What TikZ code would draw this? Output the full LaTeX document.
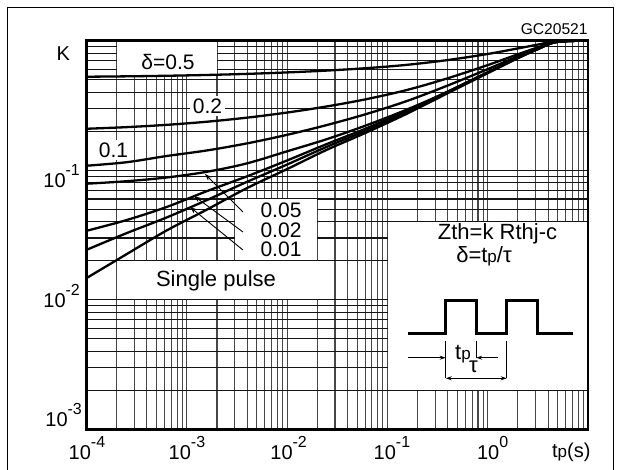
\documentclass[tikz,border=0pt]{standalone}
\usepackage{fontspec}
\setmainfont{Liberation Sans}
\usetikzlibrary{arrows.meta}
\tikzset{
  gridv/.style={line width=0.55pt, black!72},
  gridh/.style={line width=0.55pt, black!92},
  axisframe/.style={line width=1.3pt},
  curve/.style={line width=1.15pt, line join=round},
  lbl/.style={font=\fontsize{10.5}{12}\selectfont, inner sep=0pt},
  big/.style={font=\fontsize{11}{13}\selectfont, inner sep=0pt},
  num/.style={font=\fontsize{10}{12}\selectfont, inner sep=0pt},
  tag/.style={fill=white, inner sep=1.5pt, font=\fontsize{10.5}{12}\selectfont},
  leader/.style={line width=0.45pt, -{Stealth[length=3.5pt,width=2.5pt]}},
  dim/.style={line width=0.45pt},
  dimarrow/.style={line width=0.45pt, -{Stealth[length=3pt,width=2pt]}},
  dimboth/.style={line width=0.45pt, {Stealth[length=3pt,width=2pt]}-{Stealth[length=3pt,width=2pt]}},
  pulse/.style={line width=1.3pt},
}
\newcommand\tenexp[1]{10\raisebox{0.6em}{\fontsize{8}{8}\selectfont #1}}
\newcommand\smallp{{\fontsize{8.5}{8}\selectfont p}}
% single-pulse values of K at the sample abscissae
\newcommand\splist{86.5/0.01469, 126.5/0.02239, 166.5/0.03357, 206.5/0.04943,
     246.5/0.07145, 286.5/0.1014, 326.5/0.1413, 366.5/0.1954, 406.5/0.2723,
     446.5/0.3890, 486.5/0.5559, 516.5/0.7244, 536.5/0.8511, 556.5/0.9772, 588/1.0}
\newcommand\zcurve[1]{%
  \gdef\pts{}%
  \foreach \px/\k in \splist {%
    \pgfmathsetmacro\py{40.7-129.53*ln(#1+(1-#1)*\k)/ln(10)}%
    \xdef\pts{\pts (\px,\py)}%
  }%
  \draw[curve] plot[smooth,tension=0.55] coordinates {\pts};%
}
\newcommand\kcurve[1]{%
  \gdef\pts{}%
  \foreach \px/\k in {#1} {%
    \pgfmathsetmacro\py{40.7-129.53*ln(\k)/ln(10)}%
    \xdef\pts{\pts (\px,\py)}%
  }%
  \draw[curve] plot[smooth,tension=0.55] coordinates {\pts};%
}
\begin{document}
\begin{tikzpicture}[x=0.5pt,y=-0.5pt]
\useasboundingbox (0,0) rectangle (622,470);
\begin{scope}
\clip (0,0) rectangle (622,470);
% outer frame
\draw[line width=0.75pt] (7.3,480) -- (7.3,7.3) -- (613.3,7.3) -- (613.3,480);
\end{scope}
% grid
\foreach \d in {0,...,4}{\foreach \m in {1,...,9}{%
  \pgfmathsetmacro\gx{86.5+100.3*(\d+ln(\m)/ln(10))}%
  \draw[gridv] (\gx,40.7) -- (\gx,429.3);}}
\foreach \d in {0,1,2}{\foreach \m in {1,...,9}{%
  \pgfmathsetmacro\gy{429.3-129.53*(\d+ln(\m)/ln(10))}%
  \draw[gridh] (86.5,\gy) -- (588,\gy);}}
% blank areas
\fill[white] (117.2,41) rectangle (216.5,76.5);
\fill[white] (235.15,199.5) rectangle (316.8,260.3);
\fill[white] (117.2,261.3) rectangle (334.45,299.3);
\fill[white] (387.9,222.3) rectangle (587.5,389.8);
% curves
\begin{scope}
\clip (86.5,40.7) rectangle (588,429.3);
\zcurve{0.52}
\zcurve{0.197}
\zcurve{0.095}
\kcurve{86.5/0.0780, 126.5/0.0817, 166.5/0.0875, 206.5/0.0970, 246.5/0.1127,
  286.5/0.1371, 326.5/0.1726, 366.5/0.2223, 406.5/0.2931, 446.5/0.3999,
  486.5/0.5650, 516.5/0.7382, 536.5/0.8585, 556.5/0.9783, 588/1.0}
\zcurve{0.019}
\zcurve{0.0097}
\zcurve{0.0}
\end{scope}
\draw[axisframe] (86.5,40.7) rectangle (588,429.3);
% curve labels
\node[lbl] (d05) at (168,61.5) {δ=0.5};
\node[tag] (d02) at (207.5,106) {0.2};
\node[tag] (d01) at (113.5,150) {0.1};
\node[lbl] (n05) at (281,210) {0.05};
\node[lbl] (n02) at (281,230) {0.02};
\node[lbl] (n01) at (281,249.7) {0.01};
\node[big] (sp) at (216,281) {Single pulse};
\coordinate (s05) at (243,212);
\coordinate (s02) at (243,232);
\coordinate (s01) at (243,250);
\coordinate (t05) at (205,174);
\coordinate (t02) at (194,196);
\coordinate (t01) at (190,207);
\draw[leader] (s05) -- (t05);
\draw[leader] (s02) -- (t02);
\draw[leader] (s01) -- (t01);
% Zth legend
\node[big] (zth) at (497.5,233.5) {Zth=k Rthj-c};
\node[big] (dlt) at (484,256) {δ=t\smallp/τ};
\draw[pulse] (408.3,333.3) -| (445.7,300.7) -| (476.7,333.3) -| (506.7,300.7) -| (537.3,333.3) -- (573.3,333.3);
\coordinate (ka) at (445.7,341);
\coordinate (kb) at (445.7,378.3);
\coordinate (kc) at (476.2,341);
\coordinate (kd) at (476.2,358.3);
\coordinate (ke) at (506.7,341);
\coordinate (kf) at (506.7,378.3);
\draw[dim] (ka) -- (kb);
\draw[dim] (kc) -- (kd);
\draw[dim] (ke) -- (kf);
\coordinate (la) at (408.3,357.7);
\coordinate (lb) at (445.7,357.7);
\coordinate (ra) at (498.3,357.7);
\coordinate (rb) at (476.2,357.7);
\draw[dimarrow] (la) -- (lb);
\draw[dimarrow] (ra) -- (rb);
\coordinate (ba) at (445.7,378.3);
\coordinate (bb) at (506.7,378.3);
\draw[dimboth] (ba) -- (bb);
\node[big] (tpl) at (463,354) {t\smallp};
\node[big] (tau) at (473.5,367) {τ};
% axis labels
\node[num] (k) at (63.3,53.3) {K};
\node[num, anchor=base west] (y1) at (43,188) {\tenexp{-1}};
\node[num, anchor=base west] (y2) at (43,308) {\tenexp{-2}};
\node[num, anchor=base west] (y3) at (45,427) {\tenexp{-3}};
\node[num, anchor=base west] (x4) at (68.3,460) {\tenexp{-4}};
\node[num, anchor=base west] (x3) at (168.3,460) {\tenexp{-3}};
\node[num, anchor=base west] (x2) at (270,460) {\tenexp{-2}};
\node[num, anchor=base west] (x1) at (373.3,460) {\tenexp{-1}};
\node[num, anchor=base west] (x0) at (476.7,460) {\tenexp{0}};
\node[num, anchor=base west] (tps) at (551.7,458) {t\smallp(s)};
\node[font=\fontsize{7.8}{9}\selectfont, inner sep=0pt, anchor=base east] (gc) at (588,35) {GC20521};
\end{tikzpicture}
\end{document}
